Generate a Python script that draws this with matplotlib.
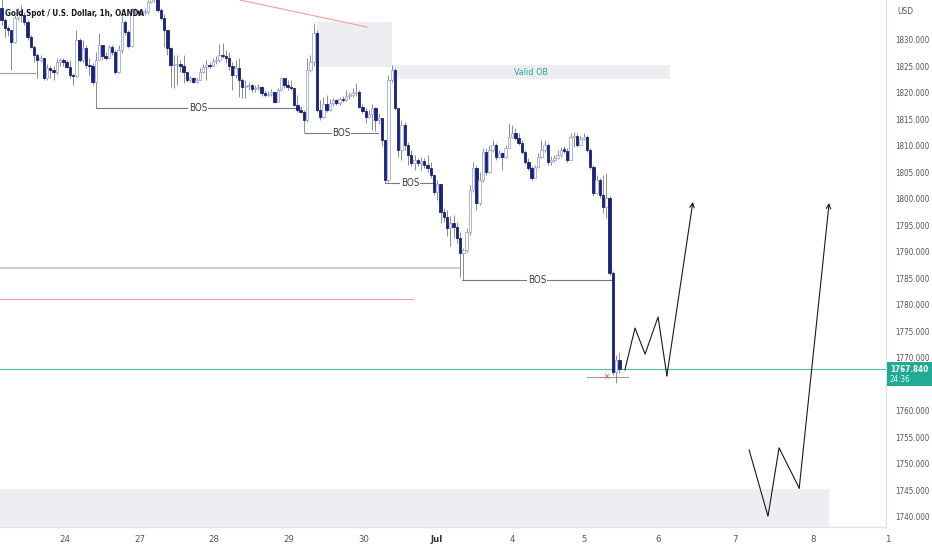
import matplotlib
matplotlib.use("Agg")
import matplotlib.pyplot as plt
from matplotlib.patches import Rectangle
import numpy as np

plt.rcParams['font.family'] = ['DejaVu Sans']
plt.rcParams['font.stretch'] = 'condensed'

# ---------------- data ----------------
first_open = 1836.0
closes = [
    1833.7, 1832.2, 1831.8, 1829.6, 1834.1, 1834.9, 1834.7, 1833.3, 1830.5, 1828.6,
    1827.1, 1826.2, 1826.6, 1822.8, 1824.7, 1824.3, 1823.9, 1825.8, 1826.2, 1825.8,
    1824.9, 1823.3, 1823.2, 1830.0, 1826.2, 1828.4, 1825.2, 1825.0, 1822.0, 1826.2,
    1829.0, 1826.9, 1826.6, 1828.6, 1827.7, 1823.9, 1828.1, 1833.3, 1831.5, 1828.8,
    1835.2, 1835.4, 1835.0, 1835.2, 1835.2, 1837.1, 1838.4, 1837.9, 1835.6, 1834.1,
    1831.8, 1828.4, 1825.2, 1825.2, 1825.4, 1825.0, 1823.9, 1822.4, 1822.8, 1822.0,
    1822.4, 1823.9, 1824.9, 1825.2, 1825.1, 1826.0, 1826.2, 1827.1, 1827.0, 1826.6,
    1825.0, 1823.3, 1824.7, 1822.4, 1821.1, 1821.3, 1821.5, 1820.7, 1820.9, 1821.1,
    1820.0, 1819.6, 1819.8, 1820.1, 1818.3, 1820.5, 1822.8, 1821.5, 1821.1, 1820.9,
    1817.7, 1816.7, 1816.4, 1814.9, 1824.3, 1825.8, 1831.3, 1816.7, 1815.4, 1817.9,
    1816.7, 1818.1, 1818.6, 1818.1, 1818.8, 1818.6, 1819.4, 1819.6, 1820.0, 1820.1,
    1817.3, 1816.6, 1815.4, 1816.0, 1817.1, 1814.9, 1815.2, 1811.1, 1803.5, 1822.4,
    1824.3, 1817.1, 1809.2, 1813.9, 1810.1, 1808.3, 1806.8, 1807.3, 1806.8, 1807.1,
    1806.4, 1805.8, 1804.5, 1801.3, 1802.8, 1797.5, 1796.6, 1794.5, 1795.4, 1794.7,
    1792.6, 1789.8, 1790.3, 1793.7, 1801.7, 1805.8, 1799.2, 1803.5, 1808.8, 1805.0,
    1809.2, 1810.1, 1807.9, 1808.6, 1807.9, 1809.6, 1811.7, 1812.4, 1811.5, 1810.5,
    1808.8, 1807.0, 1805.8, 1803.9, 1806.0, 1807.9, 1809.2, 1810.1, 1807.0, 1807.3,
    1807.7, 1808.3, 1809.2, 1809.1, 1807.3, 1811.7, 1811.8, 1810.1, 1811.3, 1811.7,
    1809.2, 1806.0, 1801.1, 1803.5, 1800.7, 1798.4, 1800.1, 1786.0, 1767.3, 1769.6,
    1767.84]
highs = [
    1838.1, 1834.1, 1832.6, 1831.3, 1834.7, 1836.0, 1836.6, 1835.2, 1833.7, 1830.9,
    1829.0, 1827.5, 1827.1, 1826.6, 1825.4, 1825.0, 1825.0, 1826.6, 1826.6, 1826.6,
    1826.2, 1826.2, 1823.7, 1831.8, 1830.3, 1830.0, 1829.0, 1826.6, 1825.6, 1827.7,
    1831.3, 1829.0, 1827.7, 1829.0, 1829.0, 1828.1, 1829.0, 1834.5, 1833.7, 1831.8,
    1836.0, 1836.0, 1835.8, 1835.8, 1836.0, 1837.5, 1839.4, 1839.0, 1838.1, 1836.0,
    1834.9, 1831.8, 1828.6, 1827.1, 1827.1, 1826.2, 1827.1, 1823.9, 1823.2, 1823.0,
    1822.8, 1824.7, 1825.4, 1826.2, 1825.8, 1826.6, 1826.9, 1829.2, 1829.4, 1828.1,
    1827.7, 1825.8, 1826.2, 1826.6, 1822.8, 1822.4, 1822.0, 1821.7, 1821.5, 1821.7,
    1821.3, 1820.5, 1820.3, 1820.7, 1820.1, 1820.9, 1823.0, 1822.8, 1822.4, 1822.4,
    1821.1, 1819.6, 1817.5, 1816.7, 1826.6, 1827.1, 1833.2, 1831.8, 1818.6, 1819.2,
    1819.6, 1818.8, 1819.0, 1818.8, 1819.2, 1819.4, 1820.5, 1820.1, 1820.9, 1821.8,
    1820.5, 1817.9, 1817.1, 1816.7, 1817.9, 1817.3, 1816.2, 1815.2, 1811.1, 1823.3,
    1825.2, 1824.7, 1817.1, 1814.9, 1814.5, 1810.7, 1809.2, 1808.3, 1807.7, 1807.9,
    1807.7, 1808.3, 1807.0, 1804.5, 1803.5, 1802.8, 1798.3, 1797.9, 1796.7, 1796.9,
    1795.6, 1793.7, 1790.7, 1794.5, 1802.6, 1807.0, 1806.4, 1805.0, 1809.6, 1809.6,
    1810.1, 1811.1, 1810.5, 1809.2, 1808.8, 1810.1, 1814.3, 1813.9, 1813.3, 1812.4,
    1811.1, 1809.2, 1807.7, 1806.2, 1806.4, 1808.6, 1811.1, 1811.1, 1810.5, 1808.1,
    1808.3, 1809.2, 1809.8, 1810.0, 1809.6, 1812.4, 1812.6, 1812.4, 1811.8, 1812.4,
    1812.0, 1809.6, 1806.4, 1804.5, 1803.9, 1804.5, 1804.9, 1800.5, 1786.4, 1770.5,
    1771.1]
lows = [
    1832.8, 1830.5, 1830.7, 1824.3, 1829.4, 1833.7, 1833.3, 1832.8, 1830.0, 1828.4,
    1825.8, 1822.8, 1825.8, 1822.4, 1822.4, 1822.8, 1822.4, 1823.5, 1825.0, 1825.0,
    1824.7, 1822.8, 1821.5, 1823.0, 1825.8, 1825.8, 1824.7, 1823.3, 1821.5, 1817.1,
    1826.6, 1826.2, 1826.2, 1826.6, 1827.1, 1823.5, 1823.7, 1827.5, 1830.9, 1828.4,
    1828.6, 1834.9, 1834.7, 1834.9, 1834.7, 1834.9, 1836.9, 1837.1, 1835.2, 1833.7,
    1828.6, 1827.1, 1821.1, 1820.9, 1821.5, 1823.9, 1821.8, 1822.0, 1822.0, 1821.8,
    1821.8, 1822.4, 1823.7, 1822.4, 1824.7, 1825.0, 1825.4, 1825.8, 1826.6, 1825.6,
    1824.3, 1820.5, 1822.8, 1819.2, 1819.0, 1819.0, 1820.5, 1820.1, 1820.1, 1820.5,
    1819.4, 1819.2, 1819.4, 1819.4, 1818.1, 1818.3, 1820.3, 1820.9, 1820.5, 1820.5,
    1817.5, 1816.4, 1816.2, 1812.4, 1814.5, 1823.9, 1825.0, 1816.4, 1814.9, 1815.2,
    1816.4, 1816.6, 1817.5, 1817.7, 1817.7, 1818.3, 1818.4, 1818.8, 1819.2, 1819.4,
    1817.1, 1816.2, 1814.3, 1815.2, 1813.0, 1812.8, 1814.1, 1810.0, 1803.0, 1803.2,
    1822.0, 1816.7, 1807.9, 1807.3, 1809.2, 1806.4, 1806.2, 1805.4, 1806.2, 1805.4,
    1805.8, 1805.0, 1803.9, 1800.7, 1799.8, 1795.4, 1795.6, 1793.0, 1791.1, 1792.6,
    1791.7, 1785.2, 1784.7, 1790.0, 1793.2, 1801.3, 1797.9, 1798.8, 1803.2, 1804.5,
    1804.9, 1808.8, 1807.3, 1807.7, 1805.4, 1807.7, 1809.6, 1811.5, 1811.1, 1810.1,
    1808.4, 1806.6, 1805.4, 1803.5, 1803.9, 1805.8, 1807.7, 1808.8, 1806.4, 1806.4,
    1807.0, 1807.5, 1807.9, 1808.6, 1807.0, 1807.3, 1809.8, 1809.8, 1810.0, 1811.1,
    1808.8, 1805.6, 1800.5, 1800.9, 1800.1, 1797.3, 1796.4, 1785.6, 1766.7, 1765.2,
    1767.1]

day_labels = ['24', '27', '28', '29', '30', 'Jul', '4', '5', '6', '7', '8']
last_day_label = '1'
price_ticks = [1740, 1745, 1750, 1755, 1760, 1770, 1775, 1780, 1785,
               1790, 1795, 1800, 1805, 1810, 1815, 1820, 1825, 1830]
last_price = 1767.84
countdown = '24:36'
title = 'Gold Spot / U.S. Dollar, 1h, OANDA'

# BOS levels: (price, start bar, end bar)
bos_price = [1817.1, 1812.4, 1803.0, 1784.7]
bos_start = [29, 93.3, 117.9, 141.6]
bos_end = [91.8, 115.8, 133.3, 187.7]

# projection paths (bar, price)
path1_x = [191.7, 194.8, 197.9, 201.9, 204.6, 212.6]
path1_y = [1767.7, 1775.6, 1770.7, 1777.7, 1766.6, 1799.4]
path2_x = [229.9, 235.7, 239.1, 245.3, 254.5]
path2_y = [1752.6, 1740.1, 1753.0, 1745.4, 1799.2]

# ---------------- layout ----------------
W, H = 932, 550
fig = plt.figure(figsize=(W / 100, H / 100), dpi=100)
ax_right_px, ax_bottom_px = 886, 527
ax = fig.add_axes([0, (H - ax_bottom_px) / H, ax_right_px / W, ax_bottom_px / H])
px_per_bar = 3.252
x0_px = 1.5


def px2bar(px):
    return (px - x0_px) / px_per_bar


ymax = 1837.5
ymin = 1837.5 - ax_bottom_px / 5.3
ax.set_xlim(px2bar(0), px2bar(ax_right_px))
ax.set_ylim(ymin, ymax)

# zones
zone_c = '#eceef2'
ax.add_patch(Rectangle((px2bar(317), 1824.9), px2bar(392) - px2bar(317), 1833.3 - 1824.9,
                       facecolor=zone_c, edgecolor='none', zorder=0))
ax.add_patch(Rectangle((px2bar(392), 1822.6), px2bar(670) - px2bar(392), 1825.2 - 1822.6,
                       facecolor=zone_c, edgecolor='none', zorder=0))
ax.text((px2bar(392) + px2bar(670)) / 2, 1823.9, 'Valid OB', color='#22ab94', fontsize=6.5,
        ha='center', va='center', zorder=1)
ax.add_patch(Rectangle((px2bar(0), ymin - 1), px2bar(829) - px2bar(0), 1745.2 - ymin + 1,
                       facecolor=zone_c, edgecolor='none', zorder=0))

# horizontal reference lines
ax.plot([px2bar(0), px2bar(460)], [1786.9, 1786.9], color='#c4c4c4', lw=1.2, zorder=1)
ax.plot([px2bar(0), px2bar(413)], [1781.1, 1781.1], color='#f59aa3', lw=0.8, zorder=1)
ax.plot([px2bar(0), px2bar(35)], [1823.7, 1823.7], color='#9a9a9a', lw=0.8, zorder=1)
ax.plot([px2bar(240), px2bar(367)], [1837.5, 1832.4], color='#f59aa3', lw=0.8, zorder=1)

# current price line
ax.axhline(last_price, color='#4fbfae', lw=0.8, zorder=1)

# BOS lines
for p, s, e in zip(bos_price, bos_start, bos_end):
    ax.plot([s, e], [p, p], color='#7a7a7a', lw=0.8, zorder=1)
    ax.text((s + e) / 2, p, 'BOS', fontsize=7, color='#3a3a3a', ha='center', va='center',
            zorder=2, bbox=dict(boxstyle='square,pad=0.05', fc='white', ec='none'))

# candles
n = min(len(closes), len(highs), len(lows))
closes = np.array(closes[:n])
highs = np.array(highs[:n])
lows = np.array(lows[:n])
opens = np.concatenate([[first_open], closes[:-1]])
xs = np.arange(n)
bull = closes >= opens
top = np.maximum(opens, closes)
bot = np.minimum(opens, closes)
ax.vlines(xs, np.minimum(lows, bot), np.maximum(highs, top), color='#8c8c8c', lw=0.7, zorder=3)
heights = np.maximum(top - bot, 0.2)
fills = ['white' if b else '#1a2470' for b in bull]
edges = ['#9ea9dc' if b else '#1a2470' for b in bull]
ax.bar(xs, heights, bottom=bot, width=0.75, color=fills, edgecolor=edges, linewidth=0.6, zorder=4)

# marker at the low
ax.plot([px2bar(587), px2bar(628)], [1766.4, 1766.4], color='#9a9a9a', lw=0.8, zorder=2)
ax.text(px2bar(607), 1766.4, '×', color='#f23645', fontsize=6, ha='center', va='center', zorder=5)

# projection paths
ax.plot(path1_x[:-1], path1_y[:-1], color='#1a1a1a', lw=0.8, zorder=5)
ax.annotate('', xy=(path1_x[-1], path1_y[-1]), xytext=(path1_x[-2], path1_y[-2]),
            arrowprops=dict(arrowstyle='->', color='#1a1a1a', lw=0.8, mutation_scale=8,
                            shrinkA=0, shrinkB=0), zorder=5)
ax.plot(path2_x[:-1], path2_y[:-1], color='#1a1a1a', lw=0.8, zorder=5)
ax.annotate('', xy=(path2_x[-1], path2_y[-1]), xytext=(path2_x[-2], path2_y[-2]),
            arrowprops=dict(arrowstyle='->', color='#1a1a1a', lw=0.8, mutation_scale=8,
                            shrinkA=0, shrinkB=0), zorder=5)

# axes styling
for s in ['top', 'left']:
    ax.spines[s].set_visible(False)
for s in ['right', 'bottom']:
    ax.spines[s].set_color('#e0e3eb')
    ax.spines[s].set_linewidth(1)
ax.yaxis.tick_right()
ax.set_yticks(price_ticks)
ax.set_yticklabels([f'{v:.3f}' for v in price_ticks])
ax.tick_params(axis='y', length=0, pad=7, labelsize=5.8, labelcolor='#555555')
tick_px = [65, 140, 214, 289, 364, 437, 512, 584, 658, 735, 813]
ax.set_xticks([px2bar(p) for p in tick_px])
ax.set_xticklabels(day_labels)
ax.tick_params(axis='x', length=0, pad=6, labelsize=6.8, labelcolor='#555555')
for lbl in ax.get_xticklabels():
    if lbl.get_text() == 'Jul':
        lbl.set_fontweight('bold')
        lbl.set_color('#333333')
fig.text(889 / W, 1 - 540 / H, last_day_label, fontsize=6.8, color='#555555', ha='center', va='center')

# title and axis unit
fig.text(5 / W, 1 - 13 / H, title, fontsize=5.8, fontweight='bold', color='#131722',
         ha='left', va='center', zorder=20)
fig.text(897 / W, 1 - 11 / H, 'USD', fontsize=6, color='#555555', ha='left', va='center')

# price tag
fig.add_artist(Rectangle((887 / W, 1 - 386 / H), 45 / W, 24 / H, transform=fig.transFigure,
                         facecolor='#22ab94', edgecolor='none', zorder=20))
fig.text(909.5 / W, 1 - 369 / H, f'{last_price:.3f}', fontsize=5.8, fontweight='bold', color='white',
         ha='center', va='center', zorder=21)
fig.text(889 / W, 1 - 380 / H, countdown, fontsize=5.8, color='#e6f7f4',
         ha='left', va='center', zorder=21)

fig.savefig('out.png', dpi=100, facecolor='white')
